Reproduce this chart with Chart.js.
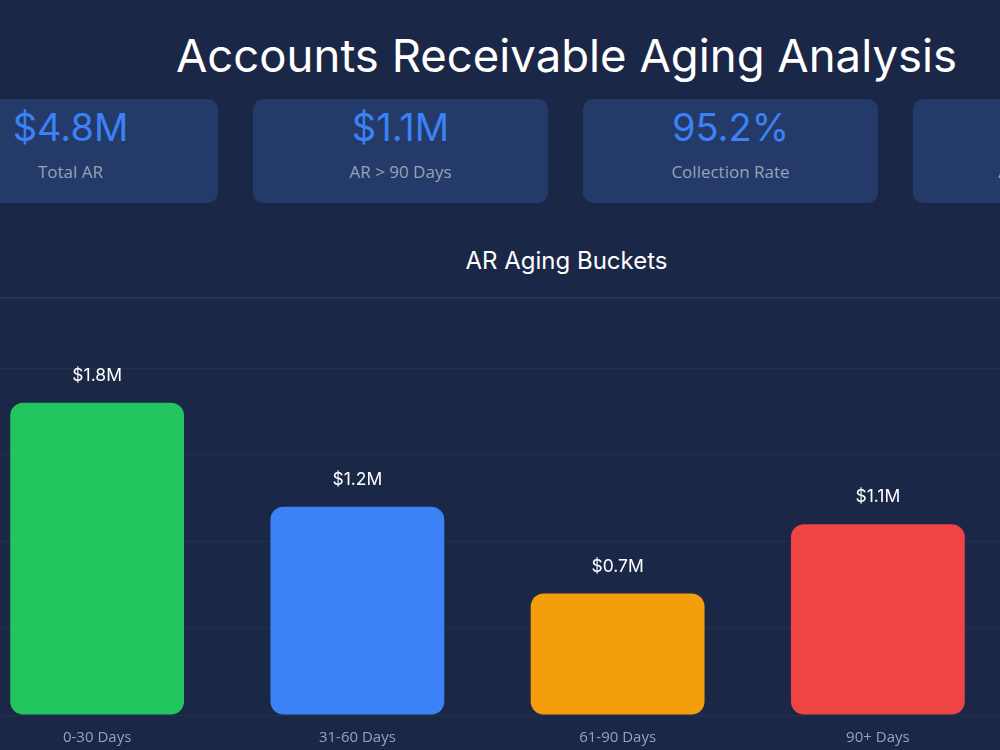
<!DOCTYPE html>
<html>
<head>
<meta charset="utf-8">
<script src="https://cdn.jsdelivr.net/npm/chart.js@4.4.0/dist/chart.umd.min.js"></script>
<style>
  html, body { margin:0; padding:0; }
  body { width:1000px; height:750px; overflow:hidden; background:#1b2746; position:relative; font-family:"Open Sans", sans-serif; }
  h1 { position:absolute; left:0; width:1133px; top:26px; margin:0; text-align:center; color:#ffffff;
       font-family:Inter, sans-serif; font-weight:400; font-size:45.5px; line-height:60px; }
  .card { position:absolute; top:99px; width:295px; height:104px; background:#243a69; border-radius:10px; text-align:center; }
  .card .v { position:absolute; left:0; right:0; top:4px; color:#3b82f6; font-family:Inter, sans-serif; font-size:38px; line-height:48px; }
  .card .l { position:absolute; left:0; right:0; top:61px; color:#94a3b8; font-size:17px; line-height:24px; }
  .divider { position:absolute; left:0; right:0; top:297px; height:2px; background:#27344f; }
  h2 { position:absolute; left:0; width:1133px; top:244px; margin:0; text-align:center; color:#ffffff;
       font-family:Inter, sans-serif; font-weight:400; font-size:24px; line-height:34px; }
  #wrap { position:absolute; left:-33px; top:300px; width:1041px; height:466px; }
</style>
</head>
<body>
<h1>Accounts Receivable Aging Analysis</h1>
<div id="cards"></div>
<h2>AR Aging Buckets</h2>
<div class="divider"></div>
<div id="wrap"><canvas id="c"></canvas></div>
<script>
const kpiValues = ["$4.8M", "$1.1M", "95.2%", "38"];
const kpiLabels = ["Total AR", "AR > 90 Days", "Collection Rate", "Avg Days to Pay"];
const categories = ["0-30 Days", "31-60 Days", "61-90 Days", "90+ Days"];
const amounts = [1.8, 1.2, 0.7, 1.1];
const barColors = ["#22c55e", "#3b82f6", "#f59e0b", "#ef4444"];
const yTicks = [0, 0.5, 1, 1.5, 2];

const cardsEl = document.getElementById("cards");
const cardLefts = [-77, 253, 583, 913];
kpiValues.forEach((v, i) => {
  const d = document.createElement("div");
  d.className = "card";
  d.style.left = cardLefts[i] + "px";
  d.innerHTML = '<div class="v">' + v + '</div><div class="l">' + kpiLabels[i] + '</div>';
  cardsEl.appendChild(d);
});

const valueLabels = {
  id: "valueLabels",
  afterDatasetsDraw(chart) {
    const ctx = chart.ctx;
    const meta = chart.getDatasetMeta(0);
    ctx.save();
    ctx.fillStyle = "#ffffff";
    ctx.font = "17.5px Inter, sans-serif";
    ctx.textAlign = "center";
    ctx.textBaseline = "middle";
    meta.data.forEach((bar, i) => {
      ctx.fillText("$" + amounts[i].toFixed(1) + "M", bar.x, bar.y - 27);
    });
    ctx.restore();
  }
};

new Chart(document.getElementById("c"), {
  type: "bar",
  data: {
    labels: categories,
    datasets: [{
      data: amounts,
      backgroundColor: barColors,
      borderRadius: 13,
      borderSkipped: false,
      barPercentage: 0.835,
      categoryPercentage: 0.8
    }]
  },
  options: {
    responsive: true,
    maintainAspectRatio: false,
    animation: false,
    layout: { padding: { top: 68, bottom: 5, left: 0, right: 0 } },
    plugins: { legend: { display: false }, tooltip: { enabled: false }, title: { display: false } },
    scales: {
      x: {
        grid: { display: false, drawTicks: false },
        border: { display: false },
        ticks: { color: "#94a3b8", padding: 14, font: { family: "Open Sans", size: 15 } }
      },
      y: {
        z: 1,
        min: 0, max: 2,
        afterBuildTicks(axis) { axis.ticks = yTicks.map(v => ({ value: v })); },
        grid: { color: "rgba(51,65,85,0.38)", drawTicks: false },
        border: { display: false },
        ticks: { display: false }
      }
    }
  },
  plugins: [valueLabels]
});
</script>
</body>
</html>
